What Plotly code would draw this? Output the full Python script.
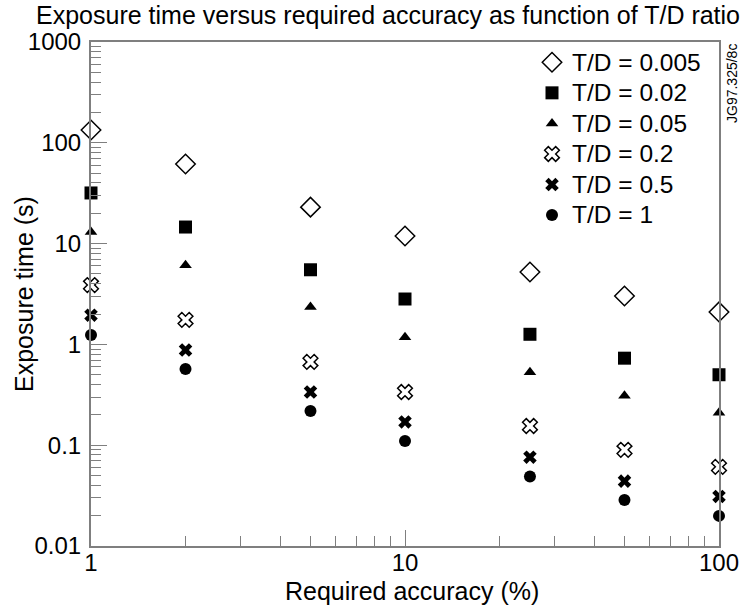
import plotly.graph_objects as go

accuracy = [1, 2, 5, 10, 25, 50, 100]

series_names = ["T/D = 0.005", "T/D = 0.02", "T/D = 0.05", "T/D = 0.2", "T/D = 0.5", "T/D = 1"]
td_0005 = [134, 61.6, 23, 11.9, 5.23, 3.02, 2.1]
td_002 = [31.8, 14.6, 5.5, 2.82, 1.26, 0.73, 0.50]
td_005 = [13, 6.1, 2.35, 1.18, 0.53, 0.31, 0.21]
td_02 = [3.88, 1.75, 0.67, 0.337, 0.155, 0.09, 0.061]
td_05 = [1.95, 0.88, 0.337, 0.17, 0.076, 0.044, 0.031]
td_1 = [1.24, 0.57, 0.218, 0.11, 0.049, 0.0286, 0.0199]

y_tickvals = [0.01, 0.1, 1, 10, 100, 1000]
y_ticktext = ["0.01", "0.1", "1", "10", "100", "1000"]
x_tickvals = [1, 10, 100]
x_ticktext = ["1", "10", "100"]

all_series = [td_0005, td_002, td_005, td_02, td_05, td_1]
styles = [
    dict(symbol="diamond", size=15, color="white", line=dict(color="black", width=1.5)),
    dict(symbol="square", size=13, color="black", line=dict(width=0)),
    dict(symbol="triangle-up", size=11, color="black", line=dict(width=0)),
    dict(symbol="x", size=13, color="white", line=dict(color="black", width=1.5)),
    dict(symbol="x", size=12, color="black", line=dict(width=0)),
    dict(symbol="circle", size=12, color="black", line=dict(width=0)),
]

fig = go.Figure()
for name, vals, st in zip(series_names, all_series, styles):
    fig.add_trace(go.Scatter(x=accuracy, y=vals, mode="markers",
                             name='<span style="font-size:24.5px">' + name + "</span>",
                             marker=st, cliponaxis=False))

def minor_vals(lo, hi):
    out = []
    d = lo
    while d < hi:
        for k in range(2, 10):
            out.append(d * k)
        d *= 10
    return out

FONT = "Liberation Sans, Arial, sans-serif"
axis_color = "#7f7f7f"

fig.update_layout(
    width=750, height=610,
    margin=dict(l=91, r=31, t=42, b=64),
    paper_bgcolor="white", plot_bgcolor="white",
    font=dict(family=FONT, size=23, color="black"),
    title=dict(text="Exposure time versus required accuracy as function of T/D ratio",
               x=36/750, xanchor="left", xref="container",
               y=1-15/610, yanchor="middle", yref="container",
               font=dict(size=25, color="black")),
    showlegend=True,
    legend=dict(x=(532-91)/628, y=1.0, xanchor="left", yanchor="top",
                bgcolor="rgba(0,0,0,0)", borderwidth=0,
                font=dict(size=21.2, color="black"), tracegroupgap=0),
    xaxis=dict(type="log", range=[0, 2], showgrid=False, zeroline=False, automargin=False,
               showline=True, linecolor=axis_color, linewidth=2, mirror=True,
               ticks="inside", ticklen=16, tickcolor=axis_color, tickwidth=1,
               tickmode="array", tickvals=x_tickvals, ticktext=x_ticktext,
               tickfont=dict(size=24, color="black"), ticklabelstandoff=-6,
               minor=dict(ticks="inside", ticklen=10, tickcolor=axis_color, tickwidth=1,
                          tickmode="array", tickvals=minor_vals(1, 100))),
    yaxis=dict(type="log", range=[-2, 3], showgrid=False, zeroline=False, automargin=False,
               showline=True, linecolor=axis_color, linewidth=2, mirror=True,
               ticks="inside", ticklen=16, tickcolor=axis_color, tickwidth=1,
               tickmode="array", tickvals=y_tickvals, ticktext=y_ticktext,
               tickfont=dict(size=24, color="black"), ticklabelstandoff=3,
               minor=dict(ticks="inside", ticklen=10, tickcolor=axis_color, tickwidth=1,
                          tickmode="array", tickvals=minor_vals(0.01, 1000))),
)

fig.add_annotation(text="Required accuracy (%)", xref="paper", yref="paper",
                   x=(412-91)/628, y=-(591-546)/504, showarrow=False,
                   font=dict(size=25, color="black"), xanchor="center", yanchor="middle")

fig.add_annotation(text="Exposure time (s)", textangle=-90, xref="paper", yref="paper",
                   x=(24-91)/628, y=0.5, showarrow=False,
                   font=dict(size=25, color="black"), xanchor="center", yanchor="middle")

fig.add_annotation(text="JG97.325/8c", textangle=-90, xref="paper", yref="paper",
                   x=(732-91)/628, y=(546-84)/504, showarrow=False,
                   font=dict(size=14, color="black"), xanchor="center", yanchor="middle")

fig.write_html("out.html")
